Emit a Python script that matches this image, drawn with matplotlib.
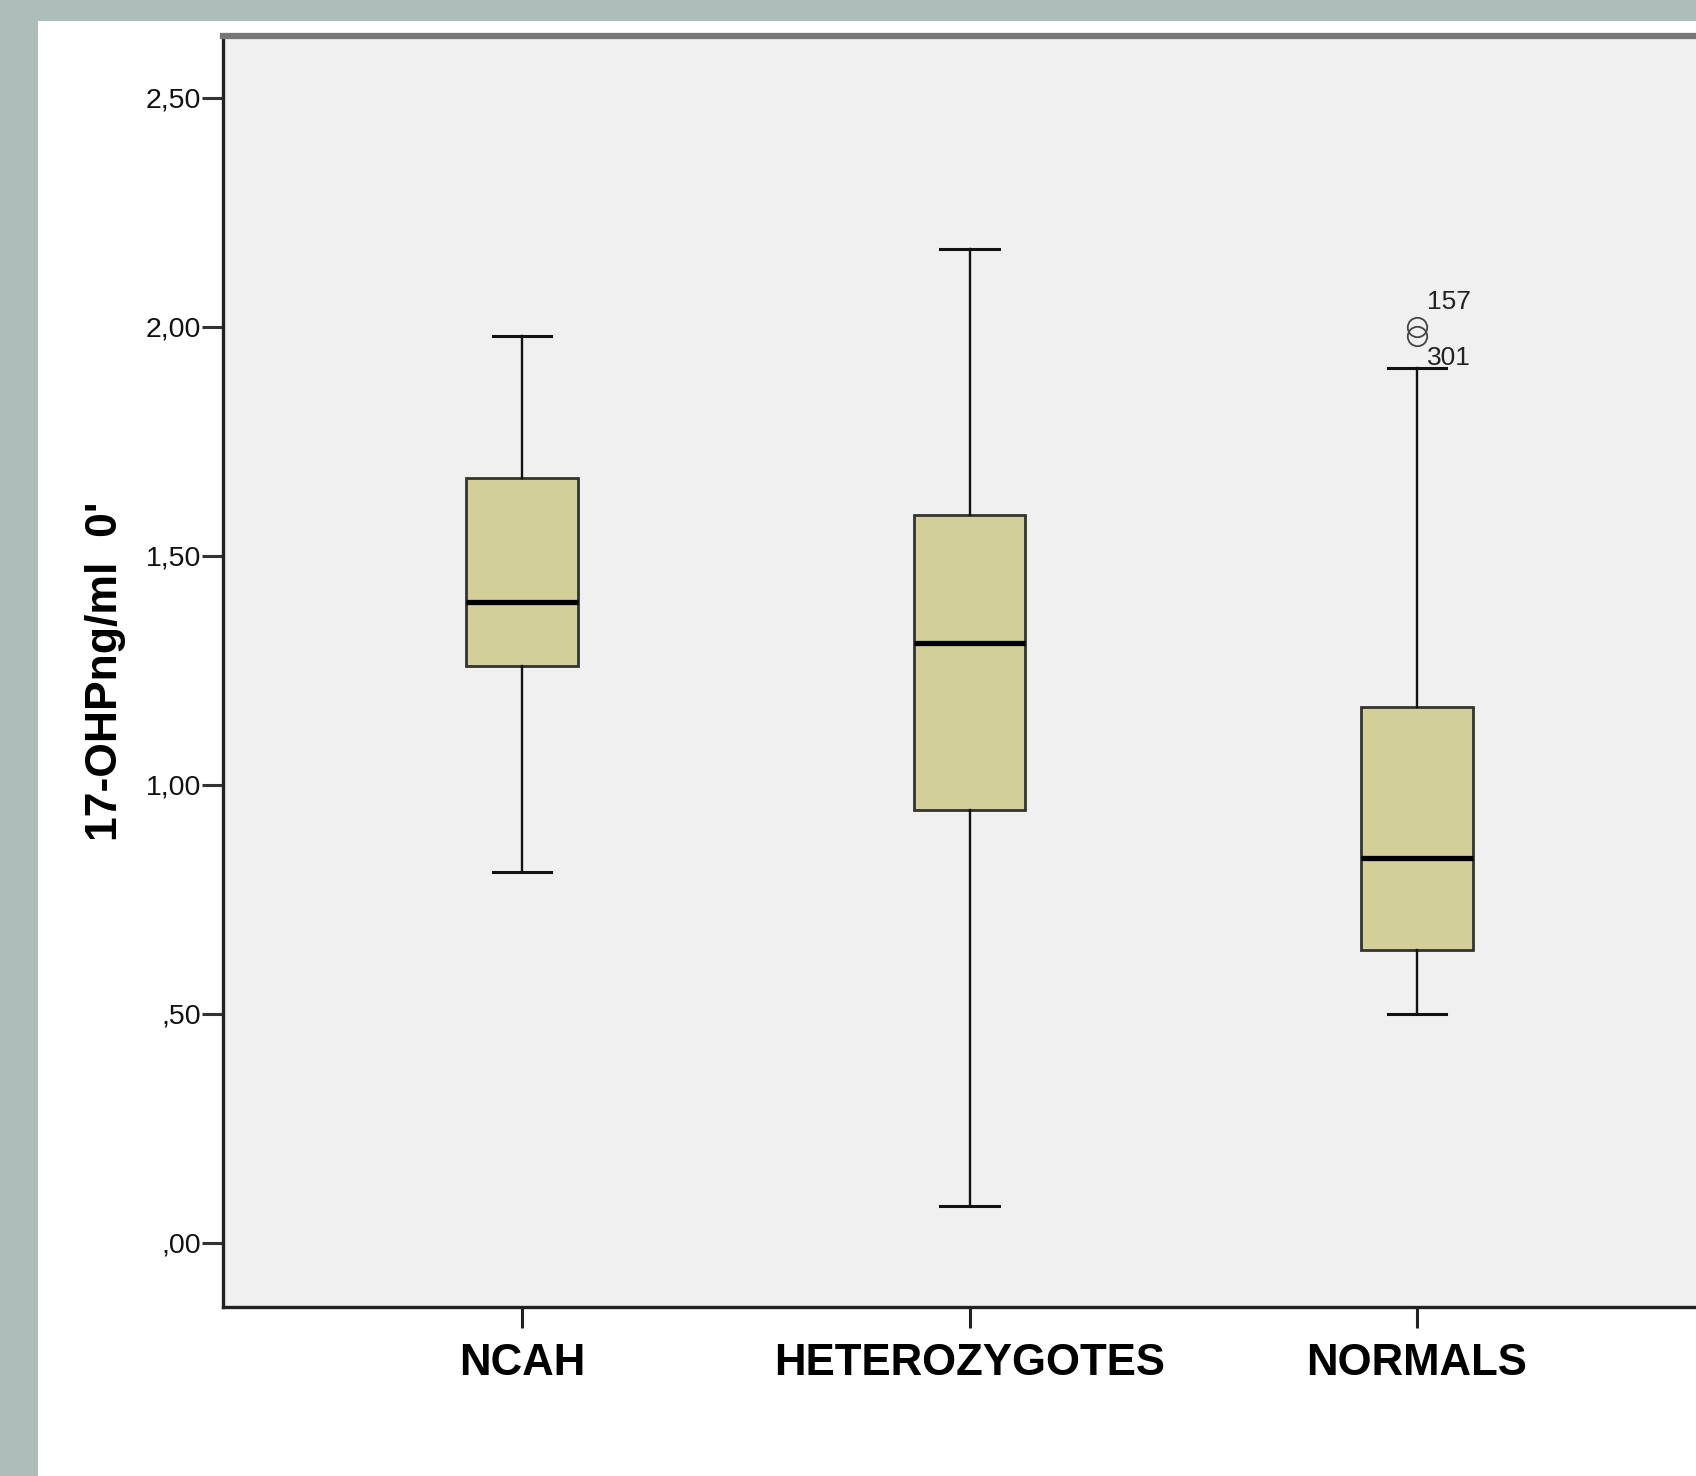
import matplotlib
matplotlib.use("Agg")
import matplotlib.pyplot as plt
from matplotlib.patches import Rectangle

plt.rcParams['font.family'] = ['Liberation Sans', 'DejaVu Sans']

# data
groups = ['NCAH', 'HETEROZYGOTES', 'NORMALS']
whis_lo = [0.81, 0.08, 0.50]
q1 = [1.26, 0.945, 0.64]
med = [1.40, 1.31, 0.84]
q3 = [1.67, 1.59, 1.17]
whis_hi = [1.98, 2.17, 1.91]
outliers = [[], [], [2.00, 1.98]]
outlier_ids = ['157', '301']
yticks = [0.0, 0.5, 1.0, 1.5, 2.0, 2.5]
ytick_labels = [',00', ',50', '1,00', '1,50', '2,00', '2,50']
ylabel = "17-OHPng/ml  0'"

fig = plt.figure(figsize=(16.96, 14.76), dpi=100)
fig.patch.set_facecolor('#adbeba')
# white panel behind the plot
fig.patches.append(Rectangle((38/1696, 0), 1, 1 - 21/1476, transform=fig.transFigure,
                             facecolor='white', edgecolor='none', zorder=-5))

ax = fig.add_axes([223/1696, 1 - 1307/1476, (1716-223)/1696, (1307-36)/1476])
ax.set_zorder(2)
ax.set_facecolor('#f0f0f0')

stats = []
for i in range(len(groups)):
    stats.append(dict(med=med[i], q1=q1[i], q3=q3[i], whislo=whis_lo[i],
                      whishi=whis_hi[i], fliers=outliers[i], label=groups[i]))

ax.bxp(stats, positions=[1, 2, 3], widths=0.25, patch_artist=True, capwidths=0.13,
       boxprops=dict(facecolor='#d3cf98', edgecolor='#333330', linewidth=2),
       medianprops=dict(color='black', linewidth=3.8),
       whiskerprops=dict(color='#111111', linewidth=1.7),
       capprops=dict(color='#111111', linewidth=2.2),
       flierprops=dict(marker='o', markersize=14, markerfacecolor='none',
                       markeredgecolor='#444444', markeredgewidth=1.3))

# outlier case numbers
ax.text(3.022, 2.055, outlier_ids[0], fontsize=19, ha='left', va='center', color='#222222')
ax.text(3.022, 1.932, outlier_ids[1], fontsize=19, ha='left', va='center', color='#222222')

ax.set_xlim(0.332, 3.668)
ax.set_ylim(-0.14, 2.635)

ax.set_yticks(yticks)
ax.set_yticklabels(ytick_labels, fontsize=20.5, color='#111111')
ax.set_xticks([1, 2, 3])
ax.set_xticklabels(groups, fontsize=31.5, fontweight='bold')
ax.tick_params(axis='y', length=15, width=2.2, color='#333333', pad=1)
ax.tick_params(axis='x', length=15, width=2.2, color='#222222', pad=11)

ax.set_ylabel(ylabel, fontsize=32, fontweight='bold')
ax.yaxis.set_label_coords(-0.065, 0.5)

for side in ['left', 'bottom']:
    ax.spines[side].set_color('#222222')
    ax.spines[side].set_linewidth(2.4)
ax.spines['top'].set_color('#777777')
ax.spines['top'].set_linewidth(4.5)
ax.spines['right'].set_visible(False)

fig.savefig('out.png', dpi=100, facecolor=fig.get_facecolor())
